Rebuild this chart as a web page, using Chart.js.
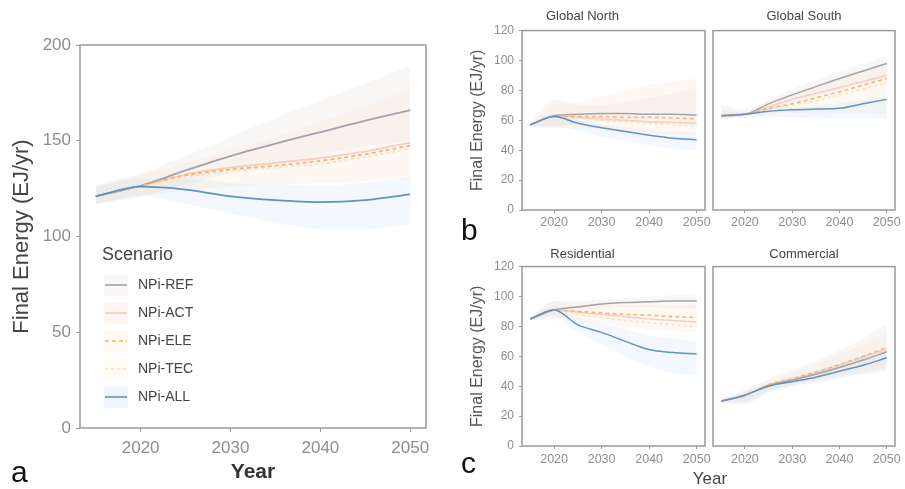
<!DOCTYPE html>
<html>
<head>
<meta charset="utf-8">
<script src="https://cdn.jsdelivr.net/npm/chart.js@4.4.1/dist/chart.umd.min.js"></script>
<style>
  body { margin: 0; background: #fff; width: 905px; height: 489px; overflow: hidden; position: relative; font-family: "Liberation Sans", Arial, sans-serif; }
  canvas { position: absolute; }
  .tag { position: absolute; line-height: 1; color: #111; }
</style>
</head>
<body>
<canvas id="panel-world" width="450" height="489" style="left:0;top:0"></canvas>
<canvas id="panel-north" width="255" height="240" style="left:460px;top:0"></canvas>
<canvas id="panel-south" width="195" height="240" style="left:710px;top:0"></canvas>
<canvas id="panel-res" width="255" height="249" style="left:460px;top:240px"></canvas>
<canvas id="panel-com" width="195" height="249" style="left:710px;top:240px"></canvas>
<div class="tag" style="left:11px;top:457px;font-size:30px">a</div>
<div class="tag" style="left:461px;top:215px;font-size:30px">b</div>
<div class="tag" style="left:461px;top:448px;font-size:30px">c</div>
<div class="tag" style="left:710px;top:470px;font-size:17px;color:#444;transform:translateX(-50%)">Year</div>
<script>
const FONT = '"Liberation Sans", Arial, sans-serif';

const years = [2015, 2020, 2025, 2030, 2035, 2040, 2045, 2050];
const xTicks = [2020, 2030, 2040, 2050];
const worldTicks = [0, 50, 100, 150, 200];
const sectorTicks = [0, 20, 40, 60, 80, 100, 120];
const scenarios = ['NPi-REF', 'NPi-ACT', 'NPi-ELE', 'NPi-TEC', 'NPi-ALL'];

// a: world
const wREF = [121, 126.5, 134.5, 142, 148.5, 154.5, 160.5, 166];
const wACT = [121, 126.5, 132.5, 136, 138.5, 141, 144.5, 149];
const wELE = [121, 126.5, 132, 135, 137, 139.5, 143, 147.5];
const wTEC = [121, 126.5, 131, 134, 136, 138, 141.5, 146];
const wALL = [121, 126, 124.5, 121, 119, 118, 119, 122];
const wREFlo = [117, 121, 127, 133, 138, 143, 147, 150];
const wREFhi = [127, 133, 142, 152, 162, 171, 180, 189];
const wACTlo = [117, 121, 124, 126, 127, 128, 129, 130];
const wACThi = [126, 132, 138, 145, 152, 160, 168, 177];
const wALLlo = [117, 121, 117, 112, 107, 104, 104, 106];
const wALLhi = [126, 130, 130, 128, 127, 127, 128, 131];

// b: global north
const nREF = [57, 63, 64, 64.5, 64.5, 64, 64, 63.5];
const nACT = [57, 62.5, 62, 61, 60, 59, 58.5, 58];
const nELE = [57, 62.5, 62.5, 62.5, 62, 62, 61.5, 61];
const nTEC = [57, 62.5, 61.5, 60, 59, 58, 57, 56];
const nALL = [57, 62.5, 58, 55, 52.5, 50, 48, 47];
const nREFlo = [56, 56, 58, 59, 59, 58, 57, 56];
const nREFhi = [58, 74, 70, 70, 72, 75, 78, 82];
const nACTlo = [56, 55, 55, 54, 53, 52, 51, 50];
const nACThi = [58, 70, 72, 76, 80, 84, 86, 88];
const nALLlo = [56, 56, 53, 49, 46, 43, 41, 40];
const nALLhi = [58, 64, 60, 57, 55, 53, 52, 52];

// b: global south
const sREF = [63, 64, 71, 77, 82.5, 88, 93, 98];
const sACT = [63, 64, 69, 74, 78, 82, 86, 90];
const sELE = [63, 64, 68, 71, 75, 79, 83.5, 88];
const sTEC = [63, 64, 67.5, 70, 73, 77, 81, 85];
const sALL = [63, 64, 66, 67, 67.5, 68, 71, 74];
const sREFlo = [61, 63, 67, 72, 76, 80, 84, 88];
const sREFhi = [70, 67, 74, 81, 87, 93, 98, 103];
const sACTlo = [61, 62, 64, 65, 65, 65, 65, 64];
const sACThi = [68, 66, 72, 78, 84, 88, 93, 97];
const sALLlo = [61, 62, 62, 62, 61.5, 61, 61, 61];
const sALLhi = [66, 65, 68, 69, 70, 71, 73.5, 76];

// c: residential
const rREF = [85, 91, 93, 95, 96, 96.5, 97, 97];
const rACT = [85, 91, 89.5, 88, 86.5, 85, 84, 83];
const rELE = [85, 91, 90, 89, 88, 87.5, 86.5, 86];
const rTEC = [85, 91, 88, 86, 84, 82.5, 81, 80];
const rALL = [85, 91, 81, 76, 70, 64.5, 62.5, 61.5];
const rREFlo = [84, 88, 90, 92, 93, 93, 92, 92];
const rREFhi = [86, 97, 97, 98, 99, 100, 101, 102];
const rACTlo = [84, 85, 84, 82, 80, 78, 77, 76];
const rACThi = [86, 97, 95, 95, 94, 94, 94, 95];
const rALLlo = [84, 86, 76, 68, 60, 53, 49, 47];
const rALLhi = [86, 93, 86, 82, 78, 74, 72, 70];

// c: commercial
const cREF = [30, 34, 40.5, 44, 48, 52.5, 57.5, 63];
const cACT = [30, 34, 40.5, 44.5, 49, 54, 59.5, 65];
const cELE = [30, 34, 41, 45, 49.5, 54.5, 60, 66];
const cTEC = [30, 34, 40, 44, 48.5, 53, 58.5, 64];
const cALL = [30, 34, 40, 43, 46, 50, 54, 59];
const cREFlo = [29, 28, 36, 40, 43, 46, 49, 52];
const cREFhi = [31, 38, 45, 51, 57, 64, 72, 82];
const cACTlo = [29, 30, 37, 41, 44, 47, 51, 54];
const cACThi = [31, 37, 44, 49, 55, 61, 68, 76];
const cALLlo = [29, 29, 36, 40, 42, 45, 48, 50];
const cALLhi = [31, 36, 42, 46, 50, 55, 60, 65];

const lineColors = ['#a3a1ad', '#f6cdc2', '#eeb670', '#f8e2bb', '#6491c2'];
const lineDash = [[], [], [4, 3], [3, 3], []];
const lineOrder = [3, 4, 2, 5, 1];
const bandFill = ['rgba(214,198,194,0.15)', 'rgba(250,206,172,0.14)', 'rgba(196,222,246,0.22)'];
const keyFill = ['rgba(228,222,222,0.2)', 'rgba(250,208,194,0.22)', 'rgba(250,228,194,0.22)', 'rgba(252,240,212,0.25)', 'rgba(204,228,248,0.32)'];

const pts = (values) => values.map((v, i) => ({ x: years[i], y: v }));

function buildDatasets(lines, bands, width) {
  const sets = [];
  lines.forEach((values, i) => {
    sets.push({
      label: scenarios[i], data: pts(values),
      borderColor: lineColors[i], borderDash: lineDash[i], borderWidth: width,
      pointRadius: 0, cubicInterpolationMode: 'monotone', fill: false, order: lineOrder[i],
    });
  });
  bands.forEach(([lo, hi], i) => {
    sets.push({ data: pts(lo), borderColor: 'rgba(0,0,0,0)', borderWidth: 0, pointRadius: 0, cubicInterpolationMode: 'monotone', fill: false, order: 10 });
    sets.push({ data: pts(hi), borderColor: 'rgba(0,0,0,0)', borderWidth: 0, pointRadius: 0, cubicInterpolationMode: 'monotone', fill: '-1', backgroundColor: bandFill[i], order: 10 });
  });
  return sets;
}

const framePlugin = {
  id: 'frame',
  afterDatasetsDraw(chart) {
    const { ctx, chartArea: a } = chart;
    ctx.save();
    ctx.strokeStyle = '#9a9a9a';
    ctx.lineWidth = 1.5;
    ctx.strokeRect(a.left, a.top, a.right - a.left, a.bottom - a.top);
    ctx.restore();
  },
};

const legendPlugin = {
  id: 'scenarioLegend',
  afterDraw(chart) {
    const { ctx, chartArea: a } = chart;
    const x0 = a.left + 22;
    const y0 = a.top + 210;
    ctx.save();
    ctx.textBaseline = 'middle';
    ctx.fillStyle = '#444';
    ctx.font = `18px ${FONT}`;
    ctx.fillText('Scenario', x0, y0);
    ctx.font = `14px ${FONT}`;
    scenarios.forEach((name, i) => {
      const y = y0 + 30 + i * 28;
      ctx.fillStyle = keyFill[i];
      ctx.fillRect(x0 + 2, y - 11, 24, 22);
      ctx.strokeStyle = lineColors[i];
      ctx.lineWidth = 1.6;
      ctx.setLineDash(lineDash[i]);
      ctx.beginPath();
      ctx.moveTo(x0 + 3, y);
      ctx.lineTo(x0 + 25, y);
      ctx.stroke();
      ctx.setLineDash([]);
      ctx.fillStyle = '#444';
      ctx.fillText(name, x0 + 36, y);
    });
    ctx.restore();
  },
};

function xScale(size, pad, height, tickLen, title) {
  return {
    type: 'linear', min: 2013.25, max: 2051.75,
    afterBuildTicks: (s) => { s.ticks = xTicks.map((v) => ({ value: v })); },
    afterFit: (s) => { s.height = height; },
    ticks: { font: { family: FONT, size }, color: '#8e8e8e', padding: pad, maxRotation: 0, autoSkip: false, callback: (v) => String(v) },
    grid: { drawOnChartArea: false, tickLength: tickLen, color: '#9a9a9a' },
    border: { display: false },
    title: title || { display: false },
  };
}

function yScale(max, tickValues, opts) {
  return {
    display: opts.show,
    min: 0, max,
    afterBuildTicks: (s) => { s.ticks = tickValues.map((v) => ({ value: v })); },
    afterFit: (s) => { s.width = opts.width; },
    ticks: { font: { family: FONT, size: opts.size }, color: '#8e8e8e', padding: 5, autoSkip: false },
    grid: { drawOnChartArea: false, tickLength: opts.tickLen, color: '#9a9a9a' },
    border: { display: false },
    title: opts.title || { display: false },
  };
}

function makeChart(id, datasets, options, extra) {
  return new Chart(document.getElementById(id), {
    type: 'line',
    data: { datasets },
    options: Object.assign({ responsive: false, animation: false, devicePixelRatio: 1 }, options),
    plugins: [framePlugin].concat(extra || []),
  });
}

function facetTitle(text, top, bottom) {
  return { display: true, text, color: '#444', font: { family: FONT, size: 13, weight: 'normal' }, padding: { top, bottom } };
}

const noLegend = { legend: { display: false }, tooltip: { enabled: false } };
const sectorYTitle = { display: true, text: 'Final Energy (EJ/yr)', color: '#555', font: { family: FONT, size: 16 }, padding: { top: 8, bottom: 0 } };

// panel a
makeChart('panel-world',
  buildDatasets([wREF, wACT, wELE, wTEC, wALL], [[wREFlo, wREFhi], [wACTlo, wACThi], [wALLlo, wALLhi]], 1.8),
  {
    layout: { padding: { top: 45, right: 24, bottom: 4, left: 0 } },
    plugins: noLegend,
    scales: {
      x: xScale(17, 6, 57, 4, { display: true, text: 'Year', color: '#333', font: { family: FONT, size: 21, weight: 'bold' }, padding: { top: 0, bottom: 0 } }),
      y: yScale(200, worldTicks, { show: true, width: 80, size: 17, tickLen: 4,
        title: { display: true, text: 'Final Energy (EJ/yr)', color: '#444', font: { family: FONT, size: 22 }, padding: { top: 9, bottom: 0 } } }),
    },
  },
  [legendPlugin]);

// panel b
makeChart('panel-north',
  buildDatasets([nREF, nACT, nELE, nTEC, nALL], [[nREFlo, nREFhi], [nACTlo, nACThi], [nALLlo, nALLhi]], 1.5),
  {
    layout: { padding: { top: 0, right: 10, bottom: 0, left: 0 } },
    plugins: Object.assign({ title: facetTitle('Global North', 9, 6) }, noLegend),
    scales: { x: xScale(12.5, 2.5, 30, 3), y: yScale(120, sectorTicks, { show: true, width: 62, size: 12, tickLen: 3, title: sectorYTitle }) },
  });

makeChart('panel-south',
  buildDatasets([sREF, sACT, sELE, sTEC, sALL], [[sREFlo, sREFhi], [sACTlo, sACThi], [sALLlo, sALLhi]], 1.5),
  {
    layout: { padding: { top: 0, right: 10, bottom: 0, left: 3 } },
    plugins: Object.assign({ title: facetTitle('Global South', 9, 6) }, noLegend),
    scales: { x: xScale(12.5, 2.5, 30, 3), y: yScale(120, sectorTicks, { show: false, width: 0, size: 12, tickLen: 3 }) },
  });

// panel c
makeChart('panel-res',
  buildDatasets([rREF, rACT, rELE, rTEC, rALL], [[rREFlo, rREFhi], [rACTlo, rACThi], [rALLlo, rALLhi]], 1.5),
  {
    layout: { padding: { top: 0, right: 10, bottom: 0, left: 0 } },
    plugins: Object.assign({ title: facetTitle('Residential', 7, 4) }, noLegend),
    scales: { x: xScale(12.5, 3.5, 43, 3), y: yScale(120, sectorTicks, { show: true, width: 62, size: 12, tickLen: 3, title: sectorYTitle }) },
  });

makeChart('panel-com',
  buildDatasets([cREF, cACT, cELE, cTEC, cALL], [[cREFlo, cREFhi], [cACTlo, cACThi], [cALLlo, cALLhi]], 1.5),
  {
    layout: { padding: { top: 0, right: 10, bottom: 0, left: 3 } },
    plugins: Object.assign({ title: facetTitle('Commercial', 7, 4) }, noLegend),
    scales: { x: xScale(12.5, 3.5, 43, 3), y: yScale(120, sectorTicks, { show: false, width: 0, size: 12, tickLen: 3 }) },
  });
</script>
</body>
</html>
